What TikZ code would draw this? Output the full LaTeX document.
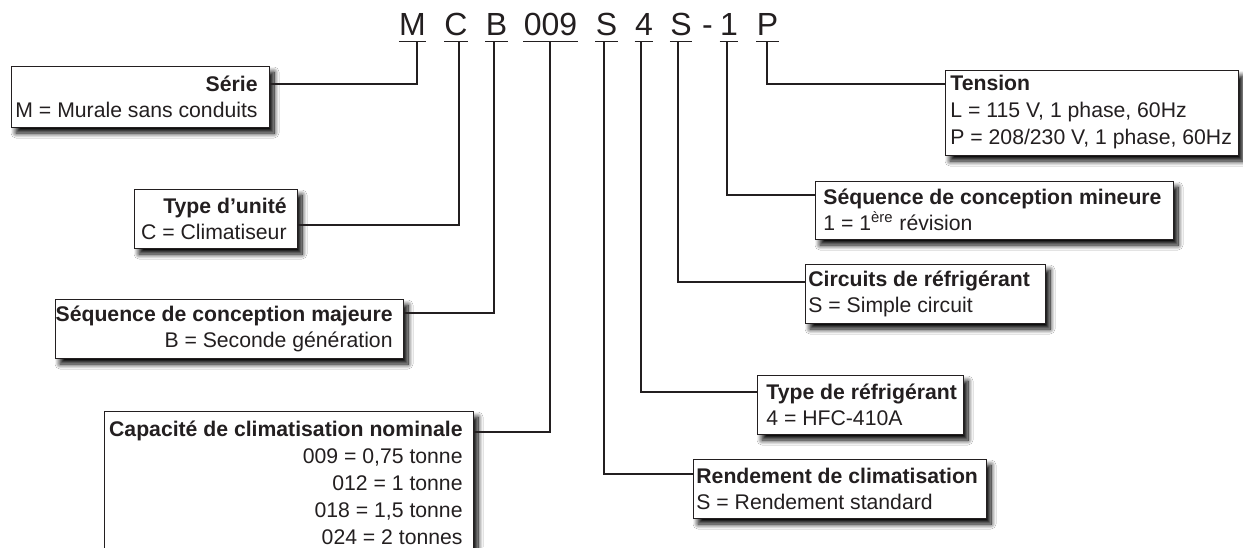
\documentclass[tikz,border=0pt]{standalone}
\usepackage{fontspec}
\setmainfont{Liberation Sans}
\usetikzlibrary{shadows.blur}
\definecolor{ink}{HTML}{231F20}
\begin{document}
\begin{tikzpicture}[x=0.5pt,y=-0.5pt,
  box/.style={draw=ink, line width=0.5pt, fill=white, inner sep=0pt, outer sep=0pt, anchor=north west,
    blur shadow={shadow xshift=2.5pt, shadow yshift=-3pt, shadow blur radius=2.5pt, shadow blur steps=12, shadow opacity=100}},
  txt/.style={inner sep=0pt, text=ink, font=\fontsize{10.6}{13}\selectfont},
  code/.style={inner sep=0pt, text=ink, anchor=base, font=\fontsize{16}{18}\selectfont},
  uline/.style={draw=ink, line width=0.8pt},
  conn/.style={draw=ink, line width=1pt}]
\useasboundingbox (0,0) rectangle (1243,547);
\clip (0,0) rectangle (1243,547);
\fill[white] (0,0) rectangle (1243,547);

% code letters
\node[code] (tM) at (412.5,35) {M};
\node[code] (tC) at (456,35) {C};
\node[code] (tB) at (496.5,35) {B};
\node[code] (t009) at (550.5,35) {009};
\node[code] (tS1) at (606.5,35) {S};
\node[code] (t4) at (644,35) {4};
\node[code] (tS2) at (681,35) {S};
\node[code] (tdash) at (707.5,35) {-};
\node[code] (t1) at (729,35) {1};
\node[code] (tP) at (767.5,35) {P};
\foreach \n in {tM,tC,tB,t009,tS1,t4,tS2,t1,tP}
  \draw[uline] ([yshift=-3.25pt]\n.base west) -- ([yshift=-3.25pt]\n.base east);

% connector start points
\coordinate (cM) at (417,42);
\coordinate (cC) at (459,42);
\coordinate (cB) at (494,42);
\coordinate (c009) at (550,42);
\coordinate (cS1) at (604,42);
\coordinate (c4) at (641,42);
\coordinate (cS2) at (678,42);
\coordinate (c1) at (727,42);
\coordinate (cP) at (767,42);

% boxes
\node[box, minimum width=129pt, minimum height=30.5pt] (serie) at (11,66) {};
\node[box, minimum width=81.5pt, minimum height=29.5pt] (type) at (134,189) {};
\node[box, minimum width=174pt, minimum height=29.5pt] (seqmaj) at (55,299) {};
\node[box, minimum width=184.5pt, minimum height=71.5pt] (capa) at (104,411) {};
\node[box, minimum width=146.5pt, minimum height=42.5pt] (tension) at (945,70) {};
\node[box, minimum width=179pt, minimum height=29pt] (seqmin) at (815,181) {};
\node[box, minimum width=120pt, minimum height=29.5pt] (circ) at (805,264) {};
\node[box, minimum width=103pt, minimum height=29.5pt] (typeref) at (757,375) {};
\node[box, minimum width=146.5pt, minimum height=29.5pt] (rend) at (693,459) {};

% texts
\node[txt, anchor=east, align=right] (serieT) at ([xshift=-5.5pt]serie.east) {\textbf{Série}\\M = Murale sans conduits};
\node[txt, anchor=east, align=right] (typeT) at ([xshift=-5pt]type.east) {\textbf{Type d’unité}\\C = Climatiseur};
\node[txt, anchor=east, align=right] (seqmajT) at ([xshift=-5pt]seqmaj.east) {\textbf{Séquence de conception majeure}\\B = Seconde génération};
\node[txt, anchor=east, align=right, font=\fontsize{10.6}{13.5}\selectfont] (capaT) at ([xshift=-5pt]capa.east) {\textbf{Capacité de climatisation nominale}\\009 = 0,75 tonne\\012 = 1 tonne\\018 = 1,5 tonne\\024 = 2 tonnes};
\node[txt, anchor=west, align=left, font=\fontsize{10.6}{13.5}\selectfont] (tensionT) at ([xshift=2.5pt]tension.west) {\textbf{Tension}\\L = 115 V, 1 phase, 60Hz\\P = 208/230 V, 1 phase, 60Hz};
\node[txt, anchor=west, align=left] (seqminT) at ([xshift=4pt]seqmin.west) {\textbf{Séquence de conception mineure}\\1 = 1\textsuperscript{ère} révision};
\node[txt, anchor=west, align=left] (circT) at ([xshift=1.5pt]circ.west) {\textbf{Circuits de réfrigérant}\\S = Simple circuit};
\node[txt, anchor=west, align=left] (typerefT) at ([xshift=4.5pt]typeref.west) {\textbf{Type de réfrigérant}\\4 = HFC-410A};
\node[txt, anchor=west, align=left] (rendT) at ([xshift=1.5pt]rend.west) {\textbf{Rendement de climatisation}\\S = Rendement standard};

% connectors
\draw[conn] (cM) |- ([yshift=-9pt]serie.north east);
\draw[conn] (cC) |- ([yshift=-18pt]type.north east);
\draw[conn] (cB) |- ([yshift=-7pt]seqmaj.north east);
\draw[conn] (c009) |- ([yshift=-10.5pt]capa.north east);
\draw[conn] (cS1) |- ([yshift=-7.5pt]rend.north west);
\draw[conn] (c4) |- ([yshift=-8.5pt]typeref.north west);
\draw[conn] (cS2) |- ([yshift=-9pt]circ.north west);
\draw[conn] (c1) |- ([yshift=-7pt]seqmin.north west);
\draw[conn] (cP) |- ([yshift=-7pt]tension.north west);
\end{tikzpicture}
\end{document}
